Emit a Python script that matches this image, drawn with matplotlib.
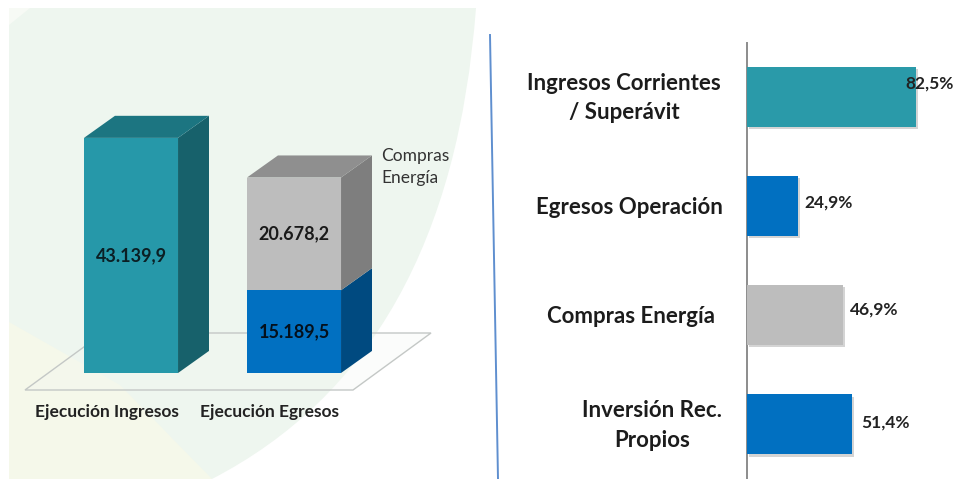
import matplotlib
matplotlib.use("Agg")
import matplotlib.pyplot as plt
import matplotlib.patheffects as pe
from matplotlib.patches import PathPatch, Polygon
from matplotlib.path import Path

plt.rcParams["font.family"] = ["Lato", "DejaVu Sans"]

# left chart data
columnas = ["Ejecución Ingresos", "Ejecución Egresos"]
ingresos = [43139.9, 0]
egresos_base = [0, 15189.5]
compras = [0, 20678.2]
etiquetas_izq = ["43.139,9", "15.189,5", "20.678,2"]

# right chart data
categorias = ["Ingresos Corrientes\n/ Superávit", "Egresos Operación", "Compras Energía", "Inversión Rec.\nPropios"]
porcentajes = [82.5, 24.9, 46.9, 51.4]
etiquetas_der = ["82,5%", "24,9%", "46,9%", "51,4%"]
colores_der = ["#2a9aa9", "#0170c1", "#bdbdbd", "#0170c1"]

W, H = 956, 479
fig = plt.figure(figsize=(W / 100, H / 100), dpi=100, facecolor="white")


def px_axes(x0, y0, x1, y1, **kw):
    # axes placed with pixel coordinates from the top left corner
    return fig.add_axes([x0 / W, 1 - y1 / H, (x1 - x0) / W, (y1 - y0) / H], **kw)


# background layer in pixels
bg = px_axes(0, 0, W, H)
bg.set_xlim(0, W)
bg.set_ylim(H, 0)
bg.axis("off")

verde = Path(
    [(9, 8), (476, 8), (450, 356), (212, 479), (9, 479), (9, 8)],
    [Path.MOVETO, Path.LINETO, Path.CURVE3, Path.CURVE3, Path.LINETO, Path.CLOSEPOLY],
)
bg.add_patch(PathPatch(verde, facecolor="#eef6ef", edgecolor="none"))
bg.add_patch(Polygon([(9, 322), (120, 385), (212, 479), (9, 479)], facecolor="#f5f8ea", edgecolor="none"))
bg.add_patch(Polygon([(9, 8), (30, 8), (9, 25)], facecolor="#f7faf5", edgecolor="none"))

# floor of the 3D chart
bg.add_patch(Polygon([(25, 390), (353, 390), (431, 333), (103, 333)], closed=True,
                     facecolor=(0.95, 0.97, 0.95, 0.3), edgecolor="#c4c8c6", lw=1))

# blue divider
bg.plot([490, 498], [35, 479], color="#5f8fcf", lw=1.4)

# left chart
ax = px_axes(49.5, 46, 375.5, 373)
ax.patch.set_alpha(0)
ax.set_xlim(-0.5, 1.5)
ax.set_ylim(0, 60000)
ax.axis("off")

ancho = 0.577
dx = 0.19
dy = 4050


def barra3d(x, base, alto, frente, lado, techo=None):
    ax.bar(x, alto, ancho, bottom=base, color=frente, zorder=3)
    der = x + ancho / 2
    tope = base + alto
    ax.add_patch(Polygon([(der, base), (der + dx, base + dy), (der + dx, tope + dy), (der, tope)],
                         facecolor=lado, edgecolor="none", zorder=2))
    if techo:
        izq = x - ancho / 2
        ax.add_patch(Polygon([(izq, tope), (der, tope), (der + dx, tope + dy), (izq + dx, tope + dy)],
                             facecolor=techo, edgecolor="none", zorder=2))


barra3d(0, 0, ingresos[0], "#2698a9", "#17616b", "#1c7581")
barra3d(1, 0, egresos_base[1], "#0170c1", "#004a80")
barra3d(1, egresos_base[1], compras[1], "#bdbdbd", "#7e7e7e", "#8f8f8f")

ax.text(0, 0.5 * ingresos[0], etiquetas_izq[0], ha="center", va="center",
        fontsize=13, fontweight="bold", color="#0b1f24", zorder=5)
ax.text(1, 0.5 * egresos_base[1], etiquetas_izq[1], ha="center", va="center",
        fontsize=13, fontweight="bold", color="#04101c", zorder=5)
ax.text(1, egresos_base[1] + 0.5 * compras[1], etiquetas_izq[2], ha="center", va="center",
        fontsize=13, fontweight="bold", color="#1a1a1a", zorder=5)

bg.text(107, 412, columnas[0], ha="center", va="center", fontsize=12.5, fontweight="bold", color="#222222")
bg.text(270, 412, columnas[1], ha="center", va="center", fontsize=12.5, fontweight="bold", color="#222222")
bg.text(381, 167, "Compras\nEnergía", ha="left", va="center", fontsize=12.5, color="#333333", linespacing=1.4)

# right chart
axb = px_axes(747, 43, W, H)
axb.patch.set_alpha(0)
pos = list(range(len(porcentajes)))
barras = axb.barh(pos, porcentajes, height=0.55, color=colores_der, zorder=3)
for b in barras:
    b.set_path_effects([pe.SimplePatchShadow(offset=(1.5, -1.5), shadow_rgbFace="#aaaaaa", alpha=0.5), pe.Normal()])
axb.set_xlim(0, 102)
axb.set_ylim(3.5, -0.495)
axb.set_xticks([])
axb.set_yticks([])
for s in ["top", "right", "bottom"]:
    axb.spines[s].set_visible(False)
axb.spines["left"].set_color("#8c8c8c")
axb.spines["left"].set_linewidth(1.4)

centros = [624, 629, 631, 652]
for i, t in enumerate(categorias):
    axb.annotate(t, xy=(0, i), xytext=((centros[i] - 747) * 0.72, -0.7), textcoords="offset points",
                 ha="center", va="center", fontsize=16, fontweight="bold", color="#1c1c1c",
                 linespacing=1.5, annotation_clip=False)

desfase = [-0.12, -0.03, -0.05, -0.02]
sep = [-5, 3.2, 3.2, 4.5]
for i, (v, t) in enumerate(zip(porcentajes, etiquetas_der)):
    axb.text(v + sep[i], i + desfase[i], t, ha="left", va="center", fontsize=12.5,
             fontweight="bold", color="#222222", zorder=5, clip_on=False)

fig.savefig("out.png", dpi=100)
